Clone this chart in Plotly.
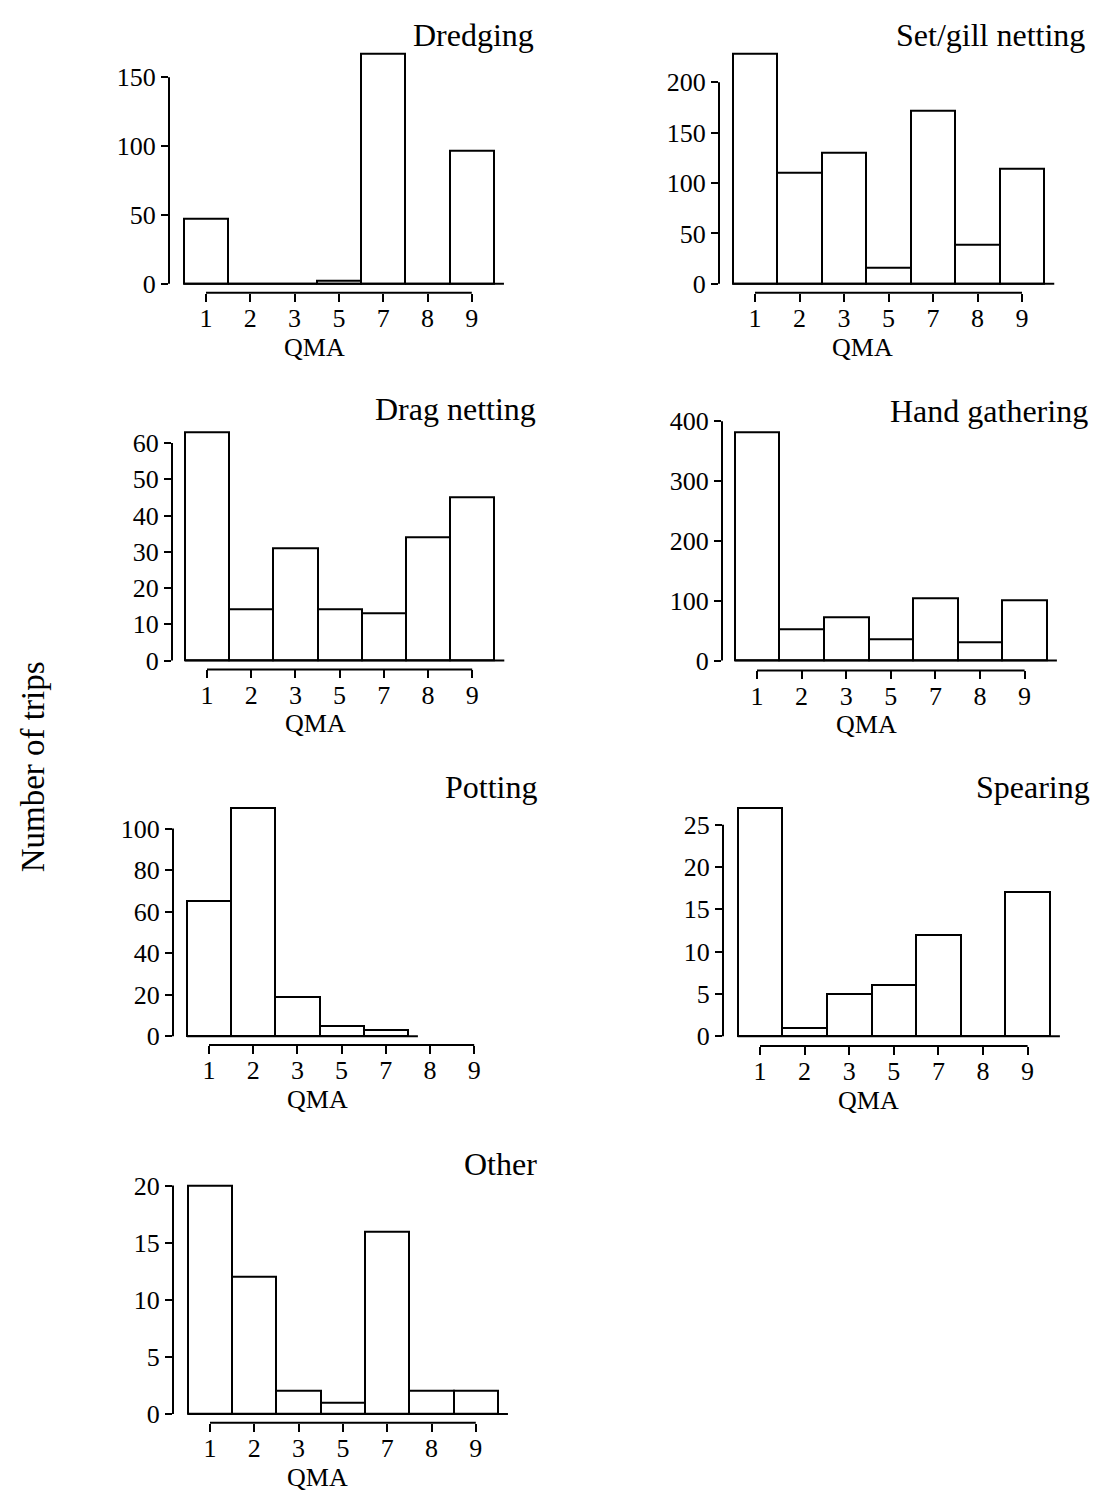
import plotly.graph_objects as go

# ---------------- data ----------------
qma = ["1", "2", "3", "5", "7", "8", "9"]

dredging = [47, 0, 0, 2, 167, 0, 97]
set_gill = [228, 110, 130, 16, 172, 39, 114]
drag_netting = [63, 14, 31, 14, 13, 34, 45]
hand_gathering = [382, 53, 72, 35, 104, 31, 100]
potting = [65, 110, 19, 5, 3, None, None]
spearing = [27, 1, 5, 6, 12, 0, 17]
other = [20, 12, 2, 1, 16, 2, 2]

titles = ["Dredging", "Set/gill netting", "Drag netting", "Hand gathering",
          "Potting", "Spearing", "Other"]
series = [dredging, set_gill, drag_netting, hand_gathering, potting, spearing, other]
yticks = [
    [0, 50, 100, 150],
    [0, 50, 100, 150, 200],
    [0, 10, 20, 30, 40, 50, 60],
    [0, 100, 200, 300, 400],
    [0, 20, 40, 60, 80, 100],
    [0, 5, 10, 15, 20, 25],
    [0, 5, 10, 15, 20],
]
x_title = "QMA"
y_title = "Number of trips"

# ---------------- layout geometry (pixels) ----------------
W, H = 1097, 1497
FONT = "Liberation Serif"
geom = [
    dict(yx=169, c1=206, sp=44.3, Y0=276, ytop=67, XL=285, tr=536, ty=24, qx=314),
    dict(yx=719, c1=755, sp=44.5, Y0=276, ytop=72, XL=285, tr=1087, ty=24, qx=862),
    dict(yx=172, c1=207, sp=44.2, Y0=657, ytop=437, XL=666, tr=538, ty=403, qx=315),
    dict(yx=722, c1=757, sp=44.6, Y0=657, ytop=415, XL=667, tr=1090, ty=405, qx=866),
    dict(yx=173, c1=209, sp=44.2, Y0=1037, ytop=827, XL=1046, tr=539, ty=785, qx=317),
    dict(yx=723, c1=760, sp=44.6, Y0=1037, ytop=823, XL=1047, tr=1092, ty=785, qx=868),
    dict(yx=173, c1=210, sp=44.3, Y0=1419, ytop=1188, XL=1428, tr=539, ty=1166, qx=317),
]
QMA_OFFSET = 55

fig = go.Figure()
layout = {}
shapes = []
annotations = []
LW = 2

for i, (title, vals, ticks, g) in enumerate(zip(titles, series, yticks, geom)):
    n = i + 1
    sfx = "" if n == 1 else str(n)
    top_val = ticks[-1]
    ppu = (g["Y0"] - g["ytop"]) / top_val
    T = g["Y0"] - 245
    R = g["c1"] + 6.5 * g["sp"] + 20

    xr = [(g["yx"] - g["c1"]) / g["sp"], (R - g["c1"]) / g["sp"]]
    yr = [-(g["XL"] - g["Y0"]) / ppu, (g["Y0"] - T) / ppu]

    fig.add_trace(go.Bar(
        x=qma, y=vals, width=1.0,
        xaxis="x" + sfx, yaxis="y" + sfx,
        marker=dict(color="white", line=dict(color="black", width=LW)),
        showlegend=False, hoverinfo="x+y",
    ))

    layout["xaxis" + sfx] = dict(
        domain=[g["yx"] / W, R / W], anchor="y" + sfx,
        type="category", categoryorder="array", categoryarray=qma,
        range=xr, showgrid=False, zeroline=False, showline=False,
        ticks="outside", ticklen=8, tickwidth=LW, tickcolor="black",
        tickmode="array", tickvals=qma, ticktext=qma,
        ticklabelstandoff=-6,
        tickfont=dict(family=FONT, size=26, color="black"),
        fixedrange=True,
    )
    layout["yaxis" + sfx] = dict(
        domain=[1 - g["XL"] / H, 1 - T / H], anchor="x" + sfx,
        range=yr, showgrid=False, zeroline=False, showline=False,
        ticks="outside", ticklen=7, tickwidth=LW, tickcolor="black",
        tickmode="array", tickvals=ticks,
        tickfont=dict(family=FONT, size=26, color="black"),
        fixedrange=True,
    )

    line = dict(color="black", width=LW)
    shapes.append(dict(type="line", xref="x" + sfx, yref="y" + sfx + " domain",
                       x0=0, x1=len(qma) - 1, y0=0, y1=0, line=line))
    shapes.append(dict(type="line", xref="x" + sfx + " domain", yref="y" + sfx,
                       x0=0, x1=0, y0=0, y1=top_val, line=line))
    last = max(k for k, v in enumerate(vals) if v is not None)
    shapes.append(dict(type="line", xref="x" + sfx, yref="y" + sfx,
                       x0=-0.5, x1=last + 0.5 + 10 / g["sp"], y0=0, y1=0, line=line))

    annotations.append(dict(text=title, x=g["tr"] / W, y=1 - g["ty"] / H,
                            xref="paper", yref="paper", xanchor="right", yanchor="middle",
                            showarrow=False, font=dict(family=FONT, size=32, color="black")))
    annotations.append(dict(text=x_title, x=g["qx"] / W, y=1 - (g["XL"] + QMA_OFFSET) / H,
                            xref="paper", yref="paper", xanchor="center", yanchor="middle",
                            showarrow=False, font=dict(family=FONT, size=26, color="black")))

annotations.append(dict(text=y_title, x=33 / W, y=1 - 765 / H, xref="paper", yref="paper",
                        xanchor="center", yanchor="middle", textangle=-90, showarrow=False,
                        font=dict(family=FONT, size=33, color="black")))

fig.update_layout(
    width=W, height=H,
    margin=dict(l=0, r=0, t=0, b=0),
    paper_bgcolor="white", plot_bgcolor="white",
    bargap=0, shapes=shapes, annotations=annotations,
    font=dict(family=FONT, color="black"),
    **layout,
)

fig.write_html("out.html")
